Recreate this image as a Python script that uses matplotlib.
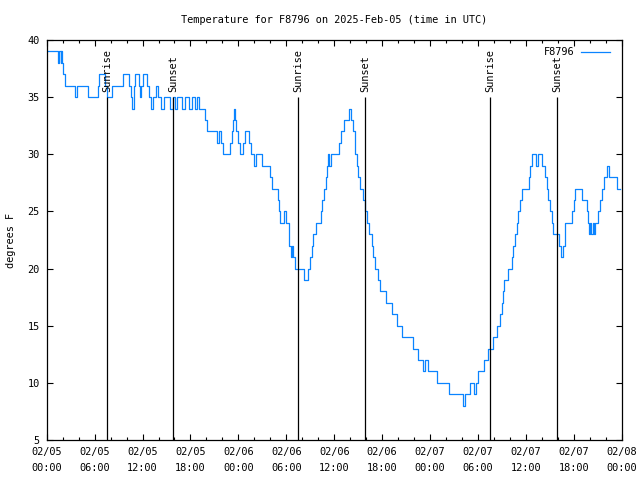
import numpy as np
import pandas as pd
import matplotlib
matplotlib.use('Agg')
import matplotlib.pyplot as plt
import matplotlib.dates as mdates

# ── data: hours after 2025-02-05 00:00 UTC where the reading changes ──
hours = [0.0, 1.41, 1.54, 1.73, 1.79, 1.92, 2.04, 2.29, 3.54, 3.79,
         5.17, 6.42, 6.55, 7.30, 7.55, 8.18, 9.54, 10.31, 10.56, 10.68,
         10.93, 11.06, 11.56, 11.68, 11.81, 12.06, 12.56, 12.75, 13.0, 13.31,
         13.69, 13.94, 14.31, 14.69, 15.44, 15.76, 16.07, 16.32, 16.94, 17.32,
         17.82, 18.19, 18.57, 18.88, 19.13, 19.82, 20.07, 21.33, 21.58, 21.83,
         22.08, 22.95, 23.20, 23.33, 23.45, 23.58, 23.70, 23.95, 24.20, 24.58,
         24.83, 25.33, 25.58, 25.96, 26.21, 26.96, 27.96, 28.21, 28.96, 29.09,
         29.21, 29.71, 29.96, 30.34, 30.40, 30.59, 30.72, 30.84, 31.09, 32.22,
         32.72, 32.97, 33.22, 33.35, 33.72, 34.35, 34.47, 34.72, 34.97, 35.10,
         35.22, 35.35, 35.60, 36.60, 36.85, 37.23, 37.85, 38.10, 38.36, 38.61,
         38.86, 38.98, 39.23, 39.61, 39.86, 40.11, 40.36, 40.73, 40.86, 41.11,
         41.48, 41.74, 42.49, 43.24, 43.87, 44.49, 45.87, 46.49, 47.12, 47.37,
         47.74, 48.87, 50.37, 52.12, 52.38, 53.0, 53.5, 53.76, 54.01, 54.76,
         55.26, 55.89, 56.39, 56.76, 57.01, 57.14, 57.26, 57.76, 58.26, 58.39,
         58.64, 58.89, 59.02, 59.27, 59.52, 60.40, 60.52, 60.77, 61.27, 61.52,
         62.02, 62.40, 62.65, 62.77, 63.02, 63.27, 63.40, 64.15, 64.40, 64.65,
         64.90, 65.78, 66.03, 66.15, 67.03, 67.66, 67.78, 67.91, 68.03, 68.16,
         68.41, 68.53, 68.66, 69.04, 69.29, 69.54, 69.79, 70.16, 70.41, 71.41,
         71.79]
temps = [39, 38, 39, 38, 39, 38, 37, 36, 35, 36,
         35, 36, 37, 36, 35, 36, 37, 36, 35, 34,
         36, 37, 36, 35, 36, 37, 36, 35, 34, 35,
         36, 35, 34, 35, 34, 35, 34, 35, 34, 35,
         34, 35, 34, 35, 34, 33, 32, 31, 32, 31,
         30, 31, 32, 33, 34, 33, 32, 31, 30, 31,
         32, 31, 30, 29, 30, 29, 28, 27, 26, 25,
         24, 25, 24, 23, 22, 21, 22, 21, 20, 19,
         20, 21, 22, 23, 24, 25, 26, 27, 28, 29,
         30, 29, 30, 31, 32, 33, 34, 33, 32, 30,
         29, 28, 27, 26, 25, 24, 23, 22, 21, 20,
         19, 18, 17, 16, 15, 14, 13, 12, 11, 12,
         11, 10, 9, 8, 9, 10, 9, 10, 11, 12,
         13, 14, 15, 16, 17, 18, 19, 20, 21, 22,
         23, 24, 25, 26, 27, 28, 29, 30, 29, 30,
         29, 28, 27, 26, 25, 24, 23, 22, 21, 22,
         24, 25, 26, 27, 26, 25, 24, 23, 24, 23,
         24, 23, 24, 25, 26, 27, 28, 29, 28, 27,
         27]

sunrise_hours = [7.58, 31.47, 55.56]
sunset_hours = [15.82, 39.91, 63.90]

station = 'F8796'
start = pd.Timestamp('2025-02-05 00:00')

times = start + pd.to_timedelta(hours, unit='h')
sunrise = start + pd.to_timedelta(sunrise_hours, unit='h')
sunset = start + pd.to_timedelta(sunset_hours, unit='h')

plt.rcParams['font.family'] = 'DejaVu Sans Mono'
fs = 7.4

fig = plt.figure(figsize=(6.4, 4.8), dpi=100)
ax = fig.add_axes([46.7 / 640, 40 / 480, 575 / 640, 400 / 480])

ax.plot(times, temps, drawstyle='steps-post', color='#0a84ff', lw=0.9, label=station)

for t in sunrise:
    ax.vlines(t, 5, 35, color='black', lw=0.9)
    ax.text(t, 35.45, 'Sunrise', rotation=90, ha='center', va='bottom', fontsize=fs)
for t in sunset:
    ax.vlines(t, 5, 35, color='black', lw=0.9)
    ax.text(t, 35.45, 'Sunset', rotation=90, ha='center', va='bottom', fontsize=fs)

ax.set_xlim(start, start + pd.Timedelta(hours=72))
ax.set_ylim(5, 40)
ax.set_yticks(np.arange(5, 41, 5))

ax.xaxis.set_major_locator(mdates.HourLocator(byhour=[0, 6, 12, 18]))
ax.xaxis.set_minor_locator(mdates.HourLocator(interval=2))
ax.xaxis.set_major_formatter(mdates.DateFormatter('%m/%d\n%H:%M'))

ax.tick_params(which='both', direction='in', top=True, right=True, labelsize=fs, width=0.8)
ax.tick_params(which='major', length=4, pad=5)
ax.tick_params(which='minor', length=2.5)
for lbl in ax.get_xticklabels():
    lbl.set_linespacing(1.7)
for sp in ax.spines.values():
    sp.set_linewidth(0.9)

ax.set_ylabel('degrees F', fontsize=fs, labelpad=8)
ax.set_title(f'Temperature for {station} on 2025-Feb-05 (time in UTC)', fontsize=fs, pad=12)

ax.legend(loc='upper right', bbox_to_anchor=(0.993, 1.0), frameon=False, markerfirst=False,
          fontsize=fs, handlelength=2.9, borderaxespad=0.3, handletextpad=0.6)

fig.savefig('out.png', dpi=100)
